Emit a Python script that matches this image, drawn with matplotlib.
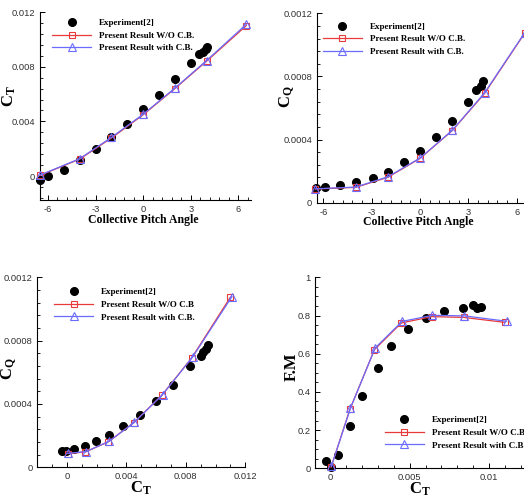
import numpy as np
import matplotlib
matplotlib.use('Agg')
import matplotlib.pyplot as plt
from matplotlib.ticker import MultipleLocator, FormatStrFormatter

plt.rcParams['font.family'] = ['Liberation Sans', 'DejaVu Sans']
plt.rcParams['mathtext.fontset'] = 'custom'
plt.rcParams['mathtext.rm'] = 'Liberation Serif:bold'
plt.rcParams['mathtext.it'] = 'Liberation Serif:bold'
plt.rcParams['mathtext.bf'] = 'Liberation Serif:bold'

# ---------------- data ----------------
# experiment vs collective pitch
pitch_exp = [-6.5, -6, -5, -4, -3, -2, -1, 0, 1, 2, 3, 3.5, 3.8, 3.95, 4.05]
ct_exp = [-0.0003, 0.0, 0.00048, 0.0012, 0.00196, 0.00284, 0.00378, 0.00487,
          0.0059, 0.0071, 0.00827, 0.00895, 0.00909, 0.00926, 0.00943]
pitch_exp_q = [-6.45, -5.9, -4.95, -3.95, -2.95, -2.0, -1.0, 0, 1, 2, 2.95, 3.45, 3.75, 3.9]
cq_exp_q = [0.000095, 0.000102, 0.000112, 0.000133, 0.000159, 0.000197, 0.000256,
            0.00033, 0.000419, 0.000519, 0.000641, 0.000712, 0.00074, 0.000772]

# experiment CQ vs CT
ct_exp_b = [-0.00034, -0.00004, 0.00049, 0.00121, 0.00198, 0.00281, 0.0038, 0.00488,
            0.00596, 0.00715, 0.00831, 0.00903, 0.00917, 0.00933, 0.00948]
cq_exp_b = [0.000101, 0.000105, 0.000116, 0.000135, 0.000164, 0.000206, 0.000261,
            0.000333, 0.000417, 0.000518, 0.000642, 0.000705, 0.000726, 0.00075, 0.000775]

# experiment FM vs CT
ct_exp_fm = [-0.00025, 0.00004, 0.00052, 0.00125, 0.00198, 0.00298, 0.00385, 0.00492,
             0.006, 0.00717, 0.00838, 0.00902, 0.00923, 0.00952]
fm_exp = [0.037, 0.005, 0.072, 0.223, 0.38, 0.524, 0.642, 0.73,
          0.785, 0.825, 0.839, 0.855, 0.839, 0.845]

# present results (W/O C.B. and with C.B.)
pitch_cfd = [-6.5, -4, -2, 0, 2, 4, 6.5]
ct_wo = [0.00005, 0.00124, 0.00278, 0.00448, 0.0064, 0.0084, 0.011]
ct_w = [0.00007, 0.00127, 0.00283, 0.00452, 0.00643, 0.00845, 0.0111]
cq_wo = [0.000087, 0.000097, 0.000161, 0.000281, 0.000457, 0.000692, 0.001075]
cq_w = [0.000088, 0.000099, 0.000164, 0.000283, 0.000459, 0.000696, 0.001078]
fm_wo = [0.005, 0.309, 0.621, 0.761, 0.794, 0.79, 0.764]
fm_w = [0.01, 0.314, 0.63, 0.769, 0.801, 0.798, 0.77]

lbl_exp = 'Experiment[2]'
RED = '#e83a3a'
BLUE = '#6b6bff'

W, H = 524, 498
fig = plt.figure(figsize=(W / 100, H / 100), dpi=100)


def make_ax(left, top, right, bottom):
    return fig.add_axes([left / W, 1 - bottom / H, (right - left) / W, (bottom - top) / H])


def style(ax, xmaj, xmin, ymaj, ymin):
    for s in ('top', 'right'):
        ax.spines[s].set_visible(False)
    ax.spines['left'].set_linewidth(0.8)
    ax.spines['bottom'].set_linewidth(0.8)
    ax.xaxis.set_major_locator(MultipleLocator(xmaj))
    ax.xaxis.set_minor_locator(MultipleLocator(xmin))
    ax.yaxis.set_major_locator(MultipleLocator(ymaj))
    ax.yaxis.set_minor_locator(MultipleLocator(ymin))
    ax.xaxis.set_major_formatter(FormatStrFormatter('%g'))
    ax.yaxis.set_major_formatter(FormatStrFormatter('%g'))
    ax.tick_params(which='major', direction='in', length=3.5, width=0.7, labelsize=6.7,
                   labelcolor='#303030', pad=3.5)
    ax.tick_params(which='minor', direction='in', length=2, width=0.6)
    ax.tick_params(top=False, right=False, which='both')


def plot_set(ax, x_exp, y_exp, x_wo, y_wo, x_w, y_w):
    ax.plot(x_exp, y_exp, 'o', color='black', ms=5.5, label=lbl_exp, clip_on=False, zorder=3)
    ax.plot(x_wo, y_wo, '-', color=RED, lw=0.9, marker='s', ms=5, mfc='none', mec=RED,
            mew=0.8, clip_on=False, zorder=4)
    ax.plot(x_w, y_w, '-', color=BLUE, lw=0.9, marker='^', ms=5.5, mfc='none', mec=BLUE,
            mew=0.8, clip_on=False, zorder=5)


def add_legend(ax, labels, anchor, loc='upper left'):
    h = ax.get_lines()
    ax.legend(h[:3], labels, loc=loc, bbox_to_anchor=anchor, frameon=False,
              prop={'family': 'Liberation Serif', 'weight': 'bold', 'size': 6.5},
              handlelength=4.3, handletextpad=0.9, labelspacing=0.47, borderpad=0,
              numpoints=1)


lab_font = {'family': 'Liberation Serif', 'weight': 'bold', 'size': 8.5}
sym_font = {'size': 12}

# ---------------- 1. CT vs pitch ----------------
ax1 = make_ax(40, 12, 251, 200)
plot_set(ax1, pitch_exp, ct_exp, pitch_cfd, ct_wo, pitch_cfd, ct_w)
ax1.set_xlim(-6.5, 6.8)
ax1.set_ylim(-0.00175, 0.012)
style(ax1, 3, 0.6, 0.004, 0.0008)
ax1.set_xlabel('Collective Pitch Angle', fontdict=lab_font)
ax1.set_ylabel('$C_T$', fontdict=sym_font)
ax1.xaxis.set_label_coords(0.49, -0.072)
ax1.yaxis.set_label_coords(-0.104, 0.55)
add_legend(ax1, [lbl_exp, 'Present Result W/O C.B.', 'Present Result with C.B.'], (0.036, 0.987))

# ---------------- 2. CQ vs pitch ----------------
ax2 = make_ax(317, 13.3, 524, 202.7)
plot_set(ax2, pitch_exp_q, cq_exp_q, pitch_cfd, cq_wo, pitch_cfd, cq_w)
ax2.set_xlim(-6.4, 6.45)
ax2.set_ylim(0, 0.0012)
style(ax2, 3, 0.6, 0.0004, 0.00008)
ax2.set_xlabel('Collective Pitch Angle', fontdict=lab_font)
ax2.set_ylabel('$C_Q$', fontdict=sym_font)
ax2.xaxis.set_label_coords(0.49, -0.072)
ax2.yaxis.set_label_coords(-0.097, 0.56)
add_legend(ax2, [lbl_exp, 'Present Result W/O C.B.', 'Present Result with C.B.'], (0.007, 0.976))

# ---------------- 3. CQ vs CT ----------------
ax3 = make_ax(37.3, 277.3, 245.3, 467.3)
plot_set(ax3, ct_exp_b, cq_exp_b, ct_wo, cq_wo, ct_w, cq_w)
ax3.set_xlim(-0.002, 0.012)
ax3.set_ylim(0, 0.0012)
style(ax3, 0.004, 0.001, 0.0004, 0.00008)
ax3.set_xlabel('$C_T$', fontdict=sym_font)
ax3.set_ylabel('$C_Q$', fontdict=sym_font)
ax3.xaxis.set_label_coords(0.5, -0.066)
ax3.yaxis.set_label_coords(-0.088, 0.52)
add_legend(ax3, [lbl_exp, 'Present Result W/O C.B', 'Present Result with C.B.'], (0.06, 0.967))

# ---------------- 4. FM vs CT ----------------
ax4 = make_ax(315.3, 277.3, 524, 468.3)
plot_set(ax4, ct_exp_fm, fm_exp, ct_wo, fm_wo, ct_w, fm_w)
ax4.set_xlim(-0.00094, 0.0122)
ax4.set_ylim(0, 1)
style(ax4, 0.005, 0.001, 0.2, 0.05)
ax4.set_xlabel('$C_T$', fontdict=sym_font)
ax4.set_ylabel('F.M', fontdict={'family': 'Liberation Serif', 'weight': 'bold', 'size': 12})
ax4.xaxis.set_label_coords(0.5, -0.066)
ax4.yaxis.set_label_coords(-0.075, 0.53)
add_legend(ax4, [lbl_exp, 'Present Result W/O C.B', 'Present Result with C.B'], (0.311, 0.297))

fig.savefig('out.png', dpi=100)
